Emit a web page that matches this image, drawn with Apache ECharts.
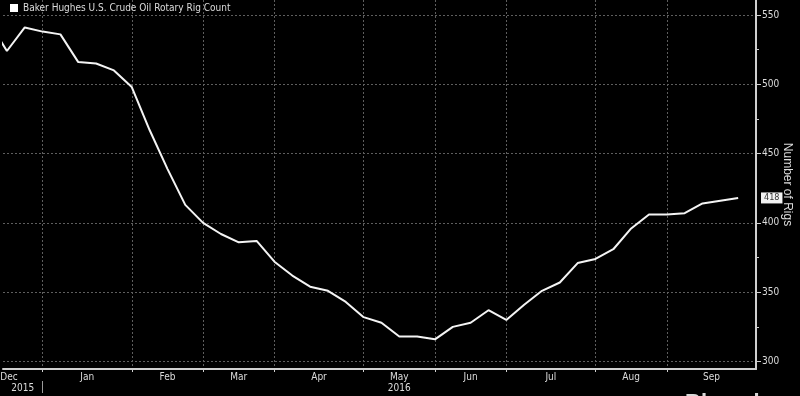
<!DOCTYPE html>
<html>
<head>
<meta charset="utf-8">
<script src="https://cdn.jsdelivr.net/npm/echarts@6/dist/echarts.min.js"></script>
<style>
html,body{margin:0;padding:0;background:#000;}
#chart{width:800px;height:396px;}
</style>
</head>
<body>
<div id="chart"></div>
<script>
// Weekly Baker Hughes US crude oil rig count (week index 0 = 2015-12-04)
const weeks = ['2015-12-04','2015-12-11','2015-12-18','2015-12-23','2015-12-31',
  '2016-01-08','2016-01-15','2016-01-22','2016-01-29',
  '2016-02-05','2016-02-12','2016-02-19','2016-02-26',
  '2016-03-04','2016-03-11','2016-03-18','2016-03-24',
  '2016-04-01','2016-04-08','2016-04-15','2016-04-22','2016-04-29',
  '2016-05-06','2016-05-13','2016-05-20','2016-05-27',
  '2016-06-03','2016-06-10','2016-06-17','2016-06-24',
  '2016-07-01','2016-07-08','2016-07-15','2016-07-22','2016-07-29',
  '2016-08-05','2016-08-12','2016-08-19','2016-08-26',
  '2016-09-02','2016-09-09','2016-09-16','2016-09-23'];
const rigs = [545,524,541,538,536,
  516,515,510,498,
  467,439,413,400,
  392,386,387,372,
  362,354,351,343,332,
  328,318,318,316,
  325,328,337,330,
  341,351,357,371,374,
  381,396,406,406,
  407,414,416,418];

// x-axis: month boundaries (week index) and month labels
const monthGridAt = [3, 8, 12, 16, 21, 25, 29, 34, 38];
const monthLabelAt = [1.12, 5.5, 10, 14, 18.5, 23, 27, 31.5, 36, 40.5];
const monthNames = ['Dec','Jan','Feb','Mar','Apr','May','Jun','Jul','Aug','Sep'];
const yearBoundaryAt = [3];
const yearLabelAt = [1.89, 23];
const yearNames = ['2015','2016'];

// y-axis ticks
const yTicks = [300, 350, 400, 450, 500, 550];
const yMinorTicks = [325, 375, 475, 525];

const xMin = 0.78, xMax = 43;
const yMin = 294.6, yMax = 560.8;

const NARROW = "'Liberation Sans Narrow', 'Arial Narrow', 'DejaVu Sans Condensed', sans-serif";
const TXT = '#dcdcdc';
const GRID = '#5e5e5e';
const AXIS = '#cfcfcf';

const lastVal = rigs[rigs.length - 1];

const chart = echarts.init(document.getElementById('chart'), null, {renderer: 'canvas'});
chart.setOption({
  backgroundColor: '#000',
  animation: false,
  textStyle: {fontFamily: NARROW},
  legend: {
    left: 10, top: 3, padding: 0,
    icon: 'rect', itemWidth: 8, itemHeight: 8,
    textStyle: {color: TXT, fontSize: 10, fontFamily: NARROW},
    data: ['Baker Hughes U.S. Crude Oil Rotary Rig Count']
  },
  grid: {left: 3, right: 44, top: 0, height: 369, containLabel: false, outerBoundsMode: 'none'},
  xAxis: [{
    type: 'value', min: xMin, max: xMax, position: 'bottom',
    axisLine: {show: true, lineStyle: {color: AXIS, width: 2}},
    axisTick: {show: true, customValues: monthGridAt, length: 3, lineStyle: {color: AXIS}},
    splitLine: {show: true, lineStyle: {color: GRID, type: [2, 2], width: 1}},
    axisLabel: {
      customValues: monthLabelAt, margin: 3, color: TXT, fontSize: 10, fontFamily: NARROW,
      formatter: v => { const i = monthLabelAt.indexOf(v); return i >= 0 ? monthNames[i] : ''; }
    }
  }, {
    type: 'value', min: xMin, max: xMax, position: 'bottom', offset: 12,
    axisLine: {show: false},
    axisTick: {show: true, customValues: yearBoundaryAt, length: 12, lineStyle: {color: '#9a9a9a'}},
    splitLine: {show: false},
    axisLabel: {
      customValues: yearLabelAt, margin: 2, color: TXT, fontSize: 10, fontFamily: NARROW,
      formatter: v => { const i = yearLabelAt.indexOf(v); return i >= 0 ? yearNames[i] : ''; }
    }
  }],
  yAxis: [{
    type: 'value', min: yMin, max: yMax, position: 'right',
    name: 'Number of Rigs', nameLocation: 'middle', nameRotate: -90, nameGap: 25,
    nameMoveOverlap: false,
    nameTextStyle: {color: TXT, fontSize: 12, fontFamily: "'Liberation Sans', Arial, sans-serif"},
    axisLine: {show: true, lineStyle: {color: AXIS, width: 2}},
    axisTick: {show: true, customValues: yTicks, length: 5, lineStyle: {color: AXIS}},
    splitLine: {show: true, lineStyle: {color: GRID, type: [2, 2], width: 1}},
    axisLabel: {customValues: yTicks, margin: 6, color: TXT, fontSize: 10, fontFamily: NARROW},
    axisPointer: {
      show: true, value: lastVal, status: 'show', triggerTooltip: false,
      lineStyle: {opacity: 0},
      label: {
        show: true, backgroundColor: '#f2f2f2', color: '#333', fontSize: 9,
        fontFamily: NARROW, padding: [1, 3, 1, 3], margin: 5, borderRadius: 0,
        formatter: p => String(Math.round(p.value))
      }
    }
  }, {
    type: 'value', min: yMin, max: yMax, position: 'right',
    axisLine: {show: false},
    axisTick: {show: true, customValues: yMinorTicks, length: 3, lineStyle: {color: AXIS}},
    axisLabel: {show: false},
    splitLine: {show: false}
  }],
  axisPointer: {triggerOn: 'none'},
  graphic: [{
    type: 'text', left: 685, top: 392, silent: true,
    style: {text: 'Bloomberg', fill: '#d8d8d8', font: "bold 22px 'Liberation Sans', Arial, sans-serif"}
  }],
  series: [{
    name: 'Baker Hughes U.S. Crude Oil Rotary Rig Count',
    type: 'line', xAxisIndex: 0, yAxisIndex: 0,
    data: rigs.map((v, i) => [i, v]),
    showSymbol: false, symbol: 'none',
    clip: true,
    color: '#ffffff',
    lineStyle: {color: '#f4f4f4', width: 2},
    itemStyle: {color: '#ffffff'}
  }]
});
</script>
</body>
</html>
